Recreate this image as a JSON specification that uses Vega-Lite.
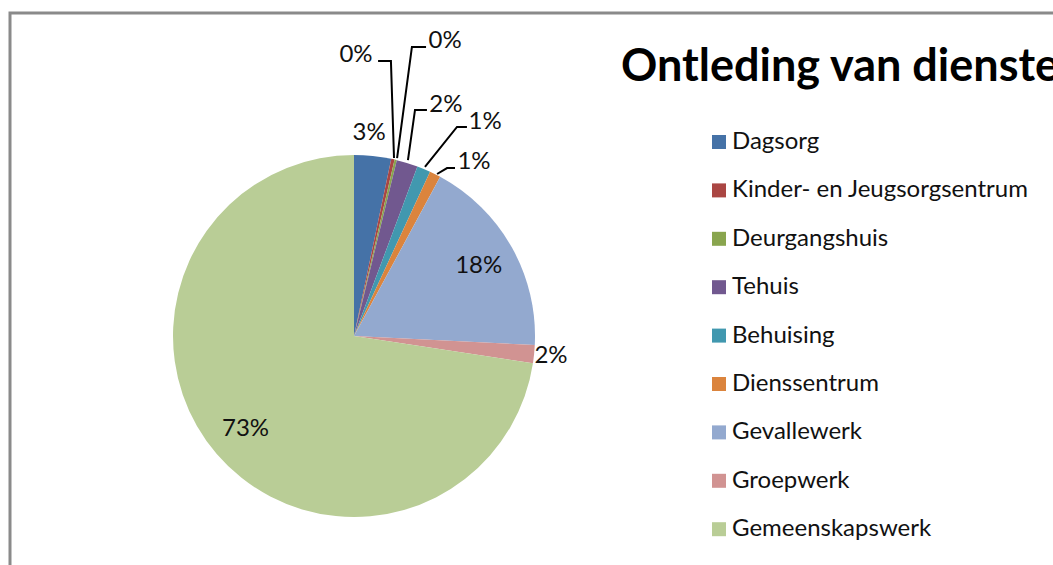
{
  "$schema": "https://vega.github.io/schema/vega-lite/v6.json",
  "width": 1100,
  "height": 600,
  "autosize": {"type": "none"},
  "padding": {"left": 10, "top": 13, "right": 0, "bottom": 0},
  "background": "white",
  "config": {"view": {"stroke": "#8a8a8a", "strokeWidth": 3}, "font": "Lato"},
  "title": {"text": "Ontleding van dienste gelewer", "anchor": "start", "frame": "group", "orient": "top", "offset": 0, "dx": 611, "dy": 113, "baseline": "alphabetic", "fontSize": 45, "font": "Lato", "fontWeight": "bold", "color": "#000000"},
  "datasets": {
    "main": [
      {"idx": 1, "cat": "Dagsorg", "value": 0.033},
      {"idx": 2, "cat": "Kinder- en Jeugsorgsentrum", "value": 0.003},
      {"idx": 3, "cat": "Deurgangshuis", "value": 0.002},
      {"idx": 4, "cat": "Tehuis", "value": 0.019},
      {"idx": 5, "cat": "Behuising", "value": 0.012},
      {"idx": 6, "cat": "Dienssentrum", "value": 0.010},
      {"idx": 7, "cat": "Gevallewerk", "value": 0.179},
      {"idx": 8, "cat": "Groepwerk", "value": 0.016},
      {"idx": 9, "cat": "Gemeenskapswerk", "value": 0.726}
    ],
    "leaders": [
      {"id": "a", "seq": 1, "x": 0.221, "y": 0.983},
      {"id": "a", "seq": 2, "x": 0.204, "y": 1.519},
      {"id": "a", "seq": 3, "x": 0.133, "y": 1.519},
      {"id": "b", "seq": 1, "x": 0.238, "y": 0.983},
      {"id": "b", "seq": 2, "x": 0.320, "y": 1.597},
      {"id": "b", "seq": 3, "x": 0.398, "y": 1.597},
      {"id": "c", "seq": 1, "x": 0.298, "y": 0.972},
      {"id": "c", "seq": 2, "x": 0.337, "y": 1.249},
      {"id": "c", "seq": 3, "x": 0.403, "y": 1.249},
      {"id": "d", "seq": 1, "x": 0.392, "y": 0.934},
      {"id": "d", "seq": 2, "x": 0.569, "y": 1.155},
      {"id": "d", "seq": 3, "x": 0.624, "y": 1.155},
      {"id": "e", "seq": 1, "x": 0.459, "y": 0.895},
      {"id": "e", "seq": 2, "x": 0.514, "y": 0.928},
      {"id": "e", "seq": 3, "x": 0.558, "y": 0.928}
    ],
    "leaderLabels": [
      {"label": "0%", "x": 0.011, "y": 1.552},
      {"label": "0%", "x": 0.503, "y": 1.630},
      {"label": "2%", "x": 0.508, "y": 1.276},
      {"label": "1%", "x": 0.724, "y": 1.180},
      {"label": "1%", "x": 0.663, "y": 0.959}
    ]
  },
  "layer": [
    {
      "data": {"name": "main"},
      "mark": {"type": "arc", "outerRadius": 181},
      "encoding": {
        "x": {"datum": 0, "type": "quantitative", "scale": {"domain": [-1.9006, 4.1768], "nice": false, "zero": false}, "axis": null},
        "y": {"datum": 0, "type": "quantitative", "scale": {"domain": [-1.5304, 1.7845], "nice": false, "zero": false}, "axis": null},
        "theta": {"field": "value", "type": "quantitative", "stack": true},
        "order": {"field": "idx", "type": "quantitative"},
        "color": {
          "field": "cat", "type": "nominal",
          "scale": {
            "domain": ["Dagsorg", "Kinder- en Jeugsorgsentrum", "Deurgangshuis", "Tehuis", "Behuising", "Dienssentrum", "Gevallewerk", "Groepwerk", "Gemeenskapswerk"],
            "range": ["#4572A7", "#AA4643", "#89A54E", "#71588F", "#4198AF", "#DB843D", "#93A9CF", "#D19392", "#B9CD96"]
          },
          "legend": {
            "orient": "none", "legendX": 697, "legendY": 117, "title": null,
            "symbolType": "square", "symbolSize": 196, "symbolStrokeWidth": 0,
            "labelFontSize": 24, "labelFont": "Lato", "labelColor": "#111111",
            "labelLimit": 500, "rowPadding": 24.4, "labelOffset": 1, "padding": 0
          }
        }
      }
    },
    {
      "data": {"name": "main"},
      "mark": {"type": "text", "radius": 143, "fontSize": 24, "font": "Lato", "color": "#111111", "align": "center", "baseline": "middle"},
      "encoding": {
        "x": {"datum": 0, "type": "quantitative"},
        "y": {"datum": 0, "type": "quantitative"},
        "theta": {"field": "value", "type": "quantitative", "stack": true},
        "order": {"field": "idx", "type": "quantitative"},
        "text": {"field": "value", "type": "quantitative", "format": ".0%"},
        "opacity": {"condition": {"test": "datum.cat === 'Gevallewerk' || datum.cat === 'Gemeenskapswerk'", "value": 1}, "value": 0}
      }
    },
    {
      "data": {"name": "main"},
      "mark": {"type": "text", "radius": 204, "dx": -6, "fontSize": 24, "font": "Lato", "color": "#111111", "align": "center", "baseline": "middle"},
      "encoding": {
        "x": {"datum": 0, "type": "quantitative"},
        "y": {"datum": 0, "type": "quantitative"},
        "theta": {"field": "value", "type": "quantitative", "stack": true},
        "order": {"field": "idx", "type": "quantitative"},
        "text": {"field": "value", "type": "quantitative", "format": ".0%"},
        "opacity": {"condition": {"test": "datum.cat === 'Dagsorg' || datum.cat === 'Groepwerk'", "value": 1}, "value": 0}
      }
    },
    {
      "data": {"name": "leaders"},
      "mark": {"type": "line", "color": "#000000", "strokeWidth": 2},
      "encoding": {
        "x": {"field": "x", "type": "quantitative"},
        "y": {"field": "y", "type": "quantitative"},
        "detail": {"field": "id"},
        "order": {"field": "seq", "type": "quantitative"}
      }
    },
    {
      "data": {"name": "leaderLabels"},
      "mark": {"type": "text", "fontSize": 24, "font": "Lato", "color": "#111111", "align": "center", "baseline": "middle"},
      "encoding": {
        "x": {"field": "x", "type": "quantitative"},
        "y": {"field": "y", "type": "quantitative"},
        "text": {"field": "label"}
      }
    }
  ]
}
